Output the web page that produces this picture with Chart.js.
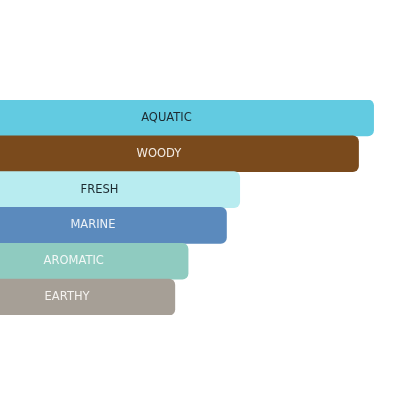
<!DOCTYPE html>
<html>
<head>
<meta charset="utf-8">
<script src="https://cdn.jsdelivr.net/npm/chart.js@4/dist/chart.umd.min.js"></script>
<style>
  html, body { margin: 0; padding: 0; background: #fff; }
  #wrap { width: 416px; height: 416px; }
</style>
</head>
<body>
<div id="wrap"><canvas id="accords"></canvas></div>
<script>
let accordLabels = ['AQUATIC', 'WOODY', 'FRESH', 'MARINE', 'AROMATIC', 'EARTHY'];
let accordValues = [90.8, 87.5, 61.5, 58.6, 50.2, 47.3];
let barColors = ['#62cbe1', '#7a4a1c', '#b8ecf0', '#5b8abd', '#8fcbc0', '#a69f96'];
let textColors = ['#1d2a30', '#f3ebe3', '#1d2a30', '#eef3f8', '#f2f8f6', '#f5f3f0'];

// labels sit in the middle of each bar, including the part cut off at the left
const barLabels = {
  id: 'barLabels',
  afterDatasetsDraw(chart) {
    let ctx = chart.ctx;
    let meta = chart.getDatasetMeta(0);
    ctx.save();
    ctx.font = '11.5px "DejaVu Sans"';
    ctx.textAlign = 'center';
    ctx.textBaseline = 'middle';
    meta.data.forEach((bar, i) => {
      ctx.fillStyle = textColors[i];
      ctx.fillText(accordLabels[i], (bar.x + bar.base) / 2, bar.y);
    });
    ctx.restore();
  }
};

let ctx = document.getElementById('accords').getContext('2d');

let myChart = new Chart(ctx, {
  type: 'bar',
  data: {
    labels: accordLabels,
    datasets: [{
      data: accordValues,
      backgroundColor: barColors,
      borderRadius: 6,
      borderSkipped: 'start',
      categoryPercentage: 1,
      barPercentage: 1.025
    }]
  },
  options: {
    indexAxis: 'y',
    responsive: true,
    maintainAspectRatio: false,
    animation: false,
    layout: {
      padding: { top: 100, bottom: 101, left: 0, right: 0 }
    },
    plugins: {
      legend: { display: false },
      tooltip: { enabled: false }
    },
    scales: {
      x: { display: false, min: 8.97, max: 100 },
      y: { display: false }
    }
  },
  plugins: [barLabels]
});
</script>
</body>
</html>
